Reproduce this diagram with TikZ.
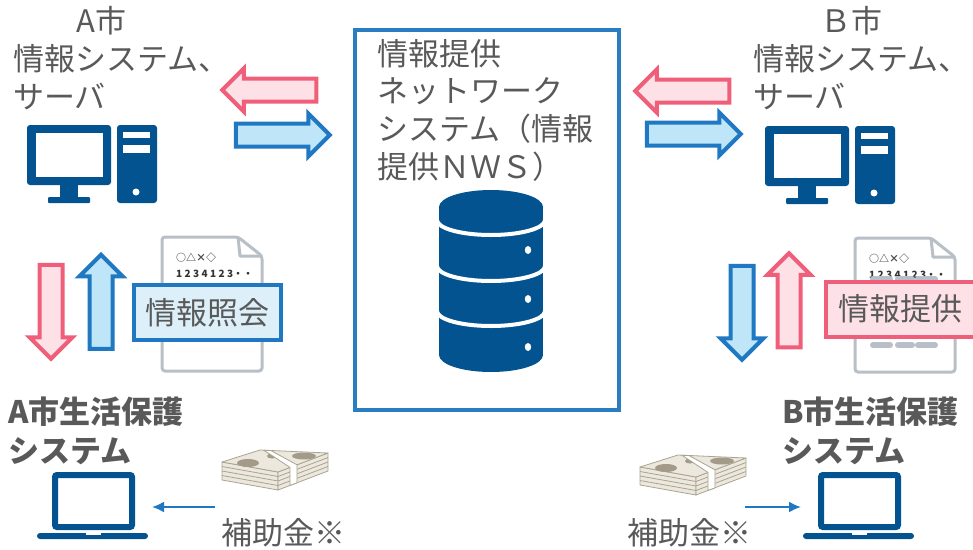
\documentclass[tikz,border=0pt]{standalone}
\usepackage{fontspec}
\setmainfont{Noto Sans CJK JP}
\usetikzlibrary{arrows.meta,shapes.arrows}

\definecolor{textgray}{HTML}{595959}
\definecolor{iconblue}{HTML}{02538F}
\definecolor{frameblue}{HTML}{2A7DC1}
\definecolor{lineblue}{HTML}{1F78C1}
\definecolor{fillblue}{HTML}{BEE6F8}
\definecolor{tagblue}{HTML}{DDF0FA}
\definecolor{linepink}{HTML}{EF5F7A}
\definecolor{fillpink}{HTML}{FDE1E7}
\definecolor{docgray}{HTML}{B8BFC6}
\definecolor{billfill}{HTML}{ECE8DD}
\definecolor{billline}{HTML}{A9A391}
\definecolor{billink}{HTML}{A39A89}

% icons, drawn from their top left corner
\tikzset{
  desktop/.pic={
    \fill[iconblue, rounded corners=3pt] (0,0) rectangle (84,60);
    \fill[white] (9,8) rectangle (76,52);
    \fill[iconblue] (33,60) rectangle (51,72);
    \fill[iconblue, rounded corners=1pt] (21,72) rectangle (63,78);
    \fill[iconblue, rounded corners=3pt] (90,0) rectangle (130,78);
    \fill[white] (96,7) rectangle (123,13);
    \fill[white] (96,20) rectangle (123,28);
    \fill[white] (109,67) circle (3.5);
  },
  laptop/.pic={
    \draw[iconblue, line width=6pt, rounded corners=2pt] (18,3) rectangle (95,55);
    \fill[iconblue, rounded corners=3pt] (0,61) rectangle (111,67);
    \fill[white] (49,61) rectangle (64,63);
  },
  sheet/.pic={
    \draw[docgray, line width=3pt, fill=white, rounded corners=3pt]
      (0,0) -- (76,0) -- (100,19) -- (100,134) -- (0,134) -- cycle;
    \draw[docgray, line width=3pt, line join=round] (76,0) -- (78,19) -- (100,19);
    \node[anchor=base west, inner sep=0, text=black!70,
      font=\fontsize{10}{10}\selectfont\bfseries] at (14,24) {○△×◇};
    \node[anchor=base west, inner sep=0, text=black!80,
      font=\fontsize{10}{10}\selectfont\bfseries] at (14,40)
      {1\hspace{2.4pt}2\hspace{2.4pt}3\hspace{2.4pt}4\hspace{2.4pt}1\hspace{2.4pt}2\hspace{2.4pt}3・・};
  },
  bills/.pic={
    \begin{scope}[draw=billline, line width=0.8pt, fill=billfill, line join=round]
      \filldraw (2,20) -- (58,30) -- (58,48) -- (2,38) -- cycle;
      \filldraw (58,30) -- (108,11) -- (108,29) -- (58,48) -- cycle;
      \foreach \d in {4.5,9,13.5}
        \draw (2,20+\d) -- (58,30+\d) -- (108,11+\d);
      \filldraw (2,20) -- (40,8) -- (108,11) -- (58,30) -- cycle;
      \fill[billink] (28,21) ellipse [x radius=11, y radius=4];
      \fill[billink] (84,14) ellipse [x radius=12, y radius=3.5];
      \fill[billink] (52,14) ellipse [x radius=5, y radius=2.5];
      \filldraw[fill=white] (44,8.3) -- (51,8.6) -- (77,22.8) -- (77,40.8)
        -- (70,43.4) -- (70,25.4) -- cycle;
    \end{scope}
  }
}

\begin{document}
\begin{tikzpicture}[x=1pt, y=-1pt,
    txt/.style={anchor=base west, inner sep=0, text=textgray,
      font=\fontsize{31}{31}\selectfont},
    boldtxt/.style={txt, font=\fontsize{31}{31}\selectfont\bfseries},
    fatarrow/.style={single arrow, draw, line width=4pt, minimum height=94pt,
      inner sep=9.5pt, text height=0pt, text depth=0pt, text width=0pt,
      single arrow head extend=10pt},
    bluearrow/.style={fatarrow, draw=lineblue, fill=fillblue},
    pinkarrow/.style={fatarrow, draw=linepink, fill=fillpink},
    tag/.style={draw, line width=4pt, inner sep=0, minimum height=55pt,
      text=textgray, font=\fontsize{31}{31}\selectfont},
    cashline/.style={lineblue, line width=2pt, -{Latex[length=12pt, width=11pt]}}]
  \clip (0,0) rectangle (973,549);

  % city A server
  \node[txt] (aHead) at (76,32) {A市};
  \node[txt] (aSys) at (13,70) {情報システム、};
  \node[txt] (aSrv) at (13,108) {サーバ};
  \pic at (27,125) {desktop};

  % city B server
  \node[txt] (bHead) at (820,32) {Ｂ市};
  \node[txt] (bSys) at (753,70) {情報システム、};
  \node[txt] (bSrv) at (753,108) {サーバ};
  \pic at (765,126) {desktop};

  % network in the middle
  \node[draw=frameblue, line width=4pt, minimum width=264pt, minimum height=380pt]
    (nws) at (487,220) {};
  \node[txt] (nws1) at (377,65) {情報提供};
  \node[txt] (nws2) at (377,102) {ネットワーク};
  \node[txt] (nws3) at (377,140) {システム（情報};
  \node[txt] (nws4) at (377,178) {提供ＮＷＳ）};

  % database
  \fill[iconblue] (439,207) rectangle (543,355);
  \fill[iconblue] (491,207) ellipse [x radius=52, y radius=17];
  \fill[iconblue] (491,355) ellipse [x radius=52, y radius=17];
  \foreach \y in {220,266,311}
    \draw[white, line width=4pt] (437,\y) arc [start angle=180, end angle=0, x radius=54, y radius=15];
  \foreach \y in {250,299,347}
    \fill[white] (528,\y) ellipse [x radius=3.2, y radius=4];

  % exchange arrows
  \node[pinkarrow, shape border rotate=180] (aRecv) at (275,90) {};
  \node[bluearrow] (aSend) at (277,135) {};
  \node[pinkarrow, shape border rotate=180] (bSend) at (688,91) {};
  \node[bluearrow] (bRecv) at (688,134) {};
  \node[pinkarrow, shape border rotate=270] (aDown) at (51,306) {};
  \node[bluearrow, shape border rotate=90] (aUp) at (101,307.5) {};
  \node[bluearrow, shape border rotate=270] (bDown) at (742,307) {};
  \node[pinkarrow, shape border rotate=90] (bUp) at (789,306) {};

  % documents
  \pic at (162,237) {sheet};
  \pic at (855,238) {sheet};
  \foreach \a/\b in {18/35,43/57,63/80} {
    \draw[docgray, line width=6pt, line cap=round] (855+\a,279) -- (855+\b,279);
    \draw[docgray, line width=6pt, line cap=round] (855+\a,345) -- (855+\b,345);
  }
  \node[tag, draw=lineblue, fill=tagblue, minimum width=147pt] (inq) at (207.5,312.5) {情報照会};
  \node[tag, draw=linepink, fill=fillpink, minimum width=149pt] (prov) at (900.5,309) {情報提供};

  % welfare systems
  \node[boldtxt] (aWel1) at (8,423) {A市生活保護};
  \node[boldtxt] (aWel2) at (8,462) {システム};
  \node[boldtxt] (bWel1) at (782,423) {B市生活保護};
  \node[boldtxt] (bWel2) at (782,462) {システム};
  \pic at (37,472) {laptop};
  \pic at (803,472) {laptop};

  % subsidies
  \pic at (220,442) {bills};
  \pic at (638,447) {bills};
  \node[txt] (aSub) at (221,544) {補助金※};
  \node[txt] (bSub) at (627,544) {補助金※};
  \coordinate (aCash) at (215,507);
  \coordinate (aPC) at (152,507);
  \coordinate (bCash) at (745,507);
  \coordinate (bPC) at (801,507);
  \draw[cashline] (aCash) -- (aPC);
  \draw[cashline] (bCash) -- (bPC);
\end{tikzpicture}
\end{document}
